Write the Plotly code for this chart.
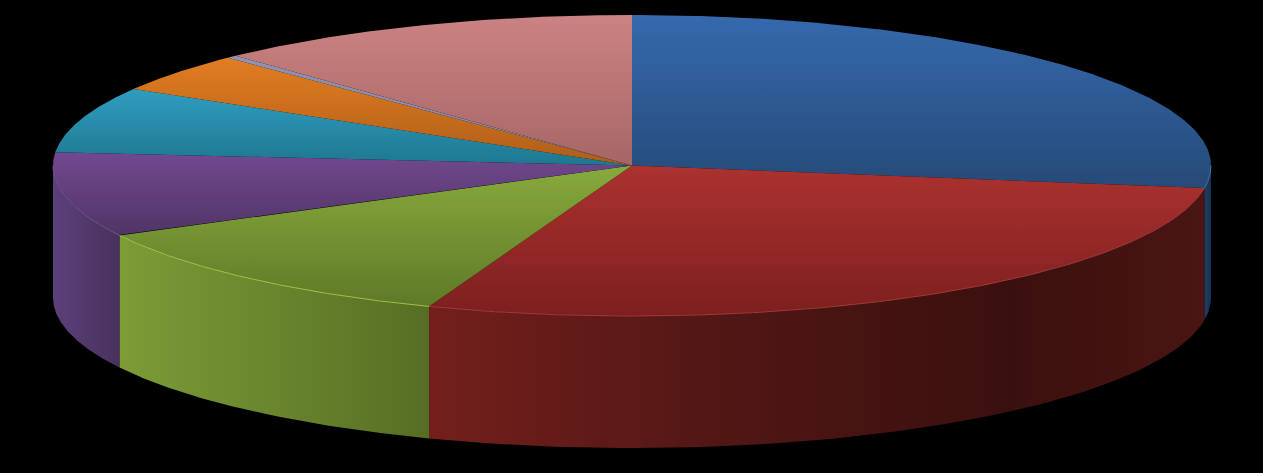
import numpy as np
import plotly.graph_objects as go

# shares, clockwise from 12 o'clock
shares = [27.4, 28.3, 11.6, 9.1, 7.1, 4.2, 0.3, 12.0]
top_light = ["#3569ad", "#ab3230", "#87aa3c", "#72498f", "#2f9dc0", "#e27d22", "#8f93b5", "#cc8282"]
top_dark = ["#254a78", "#7c1f1e", "#5e7a28", "#503466", "#1e7790", "#ae5e18", "#8a8299", "#a66666"]
rim_colors = ["#3f74b8", "#a03a36", "#a3c545", "#74528f", "#35a5c8", "#e8862c", "#9a9cc0", "#d08c8c"]
wall_left = ["#1d3f66", "#731f1c", "#7c9c37", "#5c4079", "#1d3f66", "#1d3f66", "#1d3f66", "#1d3f66"]
wall_right = ["#17324f", "#4a1512", "#566e24", "#48315f", "#17324f", "#17324f", "#17324f", "#17324f"]

# pie geometry in page pixels
CX, CY = 632, 165.5
RX, RY = 579, 150.5
DEPTH = 132

edges = np.cumsum([0] + shares) / sum(shares) * 2 * np.pi


def ellipse(t, drop=0):
    return CX + RX * np.sin(t), CY - RY * np.cos(t) + drop


def gradient(kind, start, stop, stops):
    return dict(type=kind, start=start, stop=stop, colorscale=stops)


fig = go.Figure()

# side wall, only the front half of the disc shows
for i in range(len(shares)):
    t0, t1 = max(edges[i], np.pi / 2), min(edges[i + 1], 3 * np.pi / 2)
    if t1 <= t0:
        continue
    t = np.linspace(t0, t1, 120)
    x_top, y_top = ellipse(t)
    x_bot, y_bot = ellipse(t[::-1], DEPTH)
    x = np.r_[x_top, x_bot, x_top[0]]
    y = np.r_[y_top, y_bot, y_top[0]]
    stops = [[0, wall_right[i]], [1, wall_left[i]]]
    if i == 1:
        # the big red wall is darkest around x=1000 and lifts again at the right
        stops = [[0, "#4a1512"], [0.25, "#3a100e"], [0.6, "#4f1614"], [1, "#731f1c"]]
    fig.add_trace(go.Scatter(
        x=x, y=y, mode="lines", fill="toself",
        line=dict(width=0),
        fillgradient=gradient("horizontal", x.max(), x.min(), stops),
        hoverinfo="skip",
    ))

# top face
for i in range(len(shares)):
    t = np.linspace(edges[i], edges[i + 1], 160)
    x_arc, y_arc = ellipse(t)
    x = np.r_[CX, x_arc, CX]
    y = np.r_[CY, y_arc, CY]
    fig.add_trace(go.Scatter(
        x=x, y=y, mode="lines", fill="toself",
        line=dict(width=0),
        fillgradient=gradient(
            "vertical", y.max(), y.min(),
            [[0, top_dark[i]], [1, top_light[i]]],
        ),
        hoverinfo="skip",
    ))

# lighter bevel along the front rim
for i in range(len(shares)):
    t0, t1 = max(edges[i], np.pi / 2), min(edges[i + 1], 3 * np.pi / 2)
    if t1 <= t0:
        continue
    x, y = ellipse(np.linspace(t0, t1, 120))
    fig.add_trace(go.Scatter(
        x=x, y=y, mode="lines",
        line=dict(color=rim_colors[i], width=1),
        hoverinfo="skip",
    ))

fig.update_layout(
    width=1263,
    height=473,
    margin=dict(l=0, r=0, t=0, b=0),
    paper_bgcolor="#000000",
    plot_bgcolor="#000000",
    showlegend=False,
)
fig.update_xaxes(range=[0, 1263], visible=False)
fig.update_yaxes(range=[473, 0], visible=False)

fig.write_html(
    "out.html",
    config={"displayModeBar": False},
    post_script="document.body.style.margin='0';document.body.style.background='#000';",
)
